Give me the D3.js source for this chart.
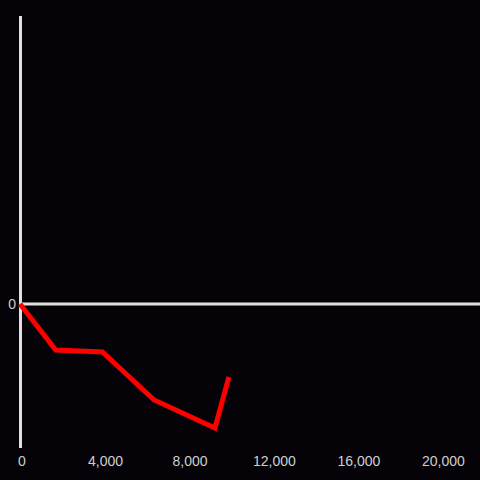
<!DOCTYPE html>
<html>
<head>
<meta charset="utf-8">
<script src="https://cdn.jsdelivr.net/npm/d3@7"></script>
<style>
	body { margin: 0; background: #050307; }
	svg { display: block; }
</style>
</head>
<body>
<svg id="chart" width="480" height="480"></svg>
<script>
// data
var xValues = [0, 1690, 3900, 6350, 9230, 9890];
var yValues = [0, -4.6, -4.8, -9.6, -12.4, -7.3];
var xTicks = [0, 4000, 8000, 12000, 16000, 20000];
var yTicks = [0];

var width = 480,
	height = 480;

var svg = d3.select("#chart");

svg.append("rect")
	.attr("width", width)
	.attr("height", height)
	.attr("fill", "#050307");

var x = d3.scaleLinear()
	.domain([0, 21730])
	.range([21, 480]);

var y = d3.scaleLinear()
	.domain([-14.4, 28.8])
	.range([448, 16]);

// vertical axis line
svg.append("line")
	.attr("x1", x(0) - 0.5)
	.attr("x2", x(0) - 0.5)
	.attr("y1", y.range()[1])
	.attr("y2", y.range()[0])
	.attr("stroke", "#e0e0e0")
	.attr("stroke-width", 3);

// horizontal zero line
svg.append("line")
	.attr("x1", x(0) - 0.5)
	.attr("x2", width)
	.attr("y1", y(0))
	.attr("y2", y(0))
	.attr("stroke", "#e0e0e0")
	.attr("stroke-width", 3);

// x tick labels
svg.selectAll(".xlab")
	.data(xTicks)
	.enter().append("text")
	.attr("class", "xlab")
	.attr("x", function (d) { return x(d) + (d == 0 ? 1 : 0); })
	.attr("y", 466)
	.attr("text-anchor", "middle")
	.attr("font-family", "Liberation Sans, Arial, sans-serif")
	.attr("font-size", 14)
	.attr("fill", "#cfcfcf")
	.text(d3.format(","));

// y tick labels
svg.selectAll(".ylab")
	.data(yTicks)
	.enter().append("text")
	.attr("class", "ylab")
	.attr("x", 16)
	.attr("y", function (d) { return y(d) + 5; })
	.attr("text-anchor", "end")
	.attr("font-family", "Liberation Sans, Arial, sans-serif")
	.attr("font-size", 14)
	.attr("fill", "#cfcfcf")
	.text(d3.format(","));

var line = d3.line()
	.x(function (d, i) { return x(xValues[i]) - 1; })
	.y(function (d) { return y(d); });

svg.append("path")
	.datum(yValues)
	.attr("d", line)
	.attr("fill", "none")
	.attr("stroke", "#ff0000")
	.attr("stroke-width", 5)
	.attr("stroke-linejoin", "miter");
</script>
</body>
</html>
